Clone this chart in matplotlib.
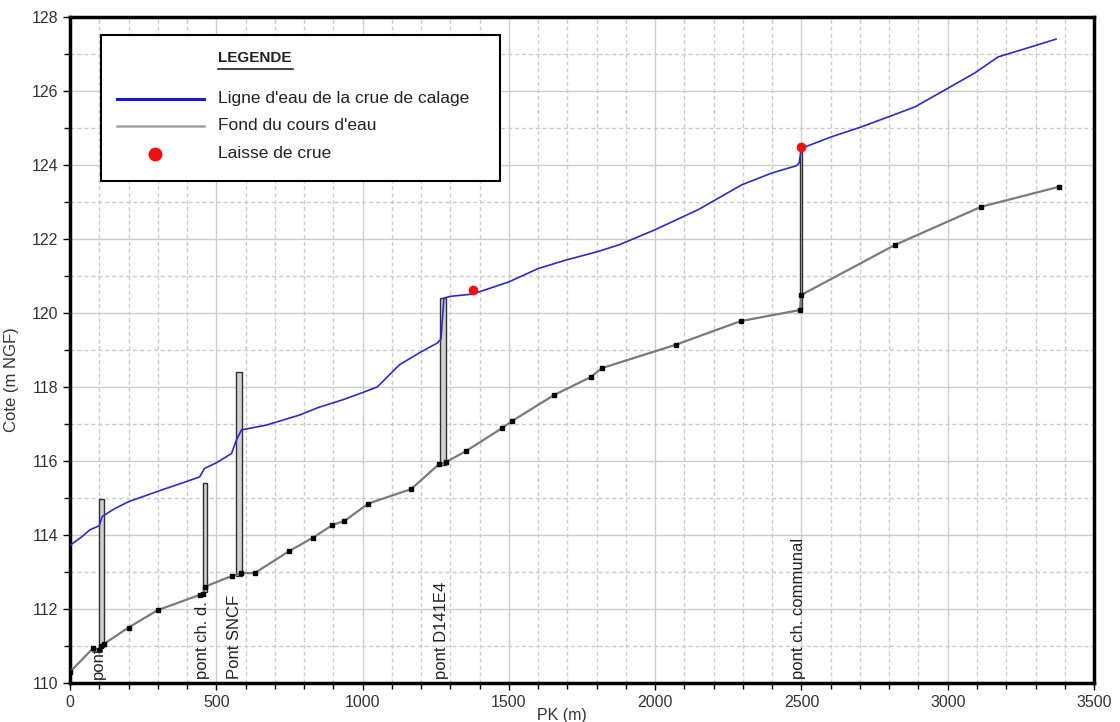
import numpy as np
import matplotlib
matplotlib.use("Agg")
import matplotlib.pyplot as plt
from matplotlib.ticker import MultipleLocator
from matplotlib.lines import Line2D
from matplotlib.patches import Rectangle

plt.rcParams['font.family'] = ['Liberation Sans', 'DejaVu Sans']

# ligne d'eau de la crue de calage (PK m, cote m NGF)
water_pk = [0, 40, 68, 100, 110, 150, 200, 307, 400, 443, 460, 500, 552, 569, 586,
            671, 784, 850, 931, 1000, 1050, 1126, 1200, 1256, 1268, 1278, 1300,
            1375, 1500, 1600, 1695, 1800, 1876, 2000, 2149, 2295, 2398, 2483,
            2492, 2500, 2602, 2705, 2797, 2888, 2991, 3093, 3172, 3284, 3370]
water_z = [113.72, 113.95, 114.14, 114.25, 114.5, 114.7, 114.9, 115.2, 115.45,
           115.57, 115.8, 115.95, 116.2, 116.57, 116.84, 116.97, 117.24, 117.45,
           117.65, 117.85, 118.0, 118.6, 118.95, 119.19, 119.3, 120.4, 120.45,
           120.51, 120.84, 121.2, 121.43, 121.65, 121.84, 122.25, 122.8, 123.46,
           123.78, 123.98, 124.05, 124.45, 124.76, 125.03, 125.3, 125.57, 126.03,
           126.49, 126.92, 127.19, 127.4]

# fond du cours d'eau
bed_pk = [0, 80, 100, 105, 115, 200, 300, 443, 455, 460, 552, 586, 631, 750, 829,
          897, 938, 1020, 1166, 1262, 1285, 1354, 1477, 1511, 1654, 1780, 1818,
          2070, 2292, 2495, 2500, 2820, 3114, 3380]
bed_z = [110.3, 110.95, 110.9, 111.0, 111.05, 111.5, 111.97, 112.38, 112.4, 112.6,
         112.89, 112.97, 112.97, 113.57, 113.92, 114.27, 114.38, 114.85, 115.24,
         115.92, 115.97, 116.27, 116.89, 117.08, 117.78, 118.27, 118.51, 119.14,
         119.78, 120.08, 120.49, 121.84, 122.87, 123.41]

# laisses de crue
laisse_pk = [1378, 2497]
laisse_z = [120.62, 124.49]

# ouvrages
bridge_names = ["pont", "pont ch. d.", "Pont SNCF", "pont D141E4", "pont ch. communal"]
bridge_left = [100, 455, 566, 1264, 2494]
bridge_right = [117, 468, 587, 1285, 2502]
bridge_bottom = [110.97, 112.45, 112.9, 115.9, 120.1]
bridge_top = [114.97, 115.4, 118.4, 120.4, 124.45]
label_pk = [96, 454, 563, 1270, 2490]

fig = plt.figure(figsize=(11.2, 7.22), dpi=100)
ax = fig.add_axes([0.0625, 0.054, 0.9143, 0.9225])

ax.set_xlim(0, 3500)
ax.set_ylim(110, 128)

ax.xaxis.set_major_locator(MultipleLocator(500))
ax.xaxis.set_minor_locator(MultipleLocator(100))
ax.yaxis.set_major_locator(MultipleLocator(2))
ax.yaxis.set_minor_locator(MultipleLocator(1))
ax.grid(which='major', color='#cccccc', linewidth=1.0, linestyle='-')
ax.grid(which='minor', color='#cccccc', linewidth=1.0, linestyle=(0, (3, 2)))
ax.set_axisbelow(True)

widths = np.array(bridge_right) - np.array(bridge_left)
heights = np.array(bridge_top) - np.array(bridge_bottom)
ax.bar(bridge_left, heights, width=widths, bottom=bridge_bottom, align='edge',
       facecolor='#d0d0d0', edgecolor='#303030', linewidth=1.0, zorder=2)

ax.plot(bed_pk, bed_z, color='#7a7a7a', linewidth=1.6, zorder=3)
ax.plot(bed_pk, bed_z, linestyle='none', marker='s', markersize=2.6,
        color='black', zorder=4)
ax.plot(water_pk, water_z, color='#2b2bc8', linewidth=1.2, zorder=5)
ax.plot(laisse_pk, laisse_z, linestyle='none', marker='o', markersize=6,
        color='#ee1111', zorder=6)

for name, x in zip(bridge_names, label_pk):
    ax.text(x, 110.12, name, rotation=90, ha='center', va='bottom',
            fontsize=12, color='#222222', zorder=7)

for s in ax.spines.values():
    s.set_linewidth(2.5)
ax.tick_params(which='both', direction='out', colors='black', labelcolor='#333333',
               labelsize=11.5, width=1)
ax.tick_params(which='major', length=5)
ax.tick_params(which='minor', length=4)

ax.set_xlabel("PK (m)", fontsize=11.5, color='#333333')
ax.set_ylabel("Cote (m NGF)", fontsize=12, color='#333333')
ax.xaxis.set_label_coords(0.48, -0.038)
ax.yaxis.set_label_coords(-0.05, 0.455)

# legende
ax.add_patch(Rectangle((0.0303, 0.7538), 0.3896, 0.2192, transform=ax.transAxes,
                       facecolor='white', edgecolor='black', linewidth=1.5, zorder=8))
ax.text(0.1445, 0.9384, "LEGENDE", transform=ax.transAxes, fontsize=11,
        fontweight='bold', color='#222222', va='center', ha='left', zorder=9)
ax.add_line(Line2D([0.1445, 0.2178], [0.922, 0.922], transform=ax.transAxes,
                   color='#222222', linewidth=1.2, zorder=9))
ax.add_line(Line2D([0.0459, 0.1309], [0.8769, 0.8769], transform=ax.transAxes,
                   color='#1a1acc', linewidth=2.2, zorder=9))
ax.add_line(Line2D([0.0459, 0.1309], [0.8363, 0.8363], transform=ax.transAxes,
                   color='#a0a0a0', linewidth=1.8, zorder=9))
ax.add_line(Line2D([0.083], [0.7943], transform=ax.transAxes, marker='o',
                   markersize=9, color='#ee1111', linestyle='none', zorder=9))
legend_texts = ["Ligne d'eau de la crue de calage", "Fond du cours d'eau", "Laisse de crue"]
for t, y in zip(legend_texts, [0.8769, 0.8363, 0.7943]):
    ax.text(0.1445, y, t, transform=ax.transAxes, fontsize=12.5, color='#222222',
            va='center', ha='left', zorder=9)

fig.savefig("out.png", dpi=100)
